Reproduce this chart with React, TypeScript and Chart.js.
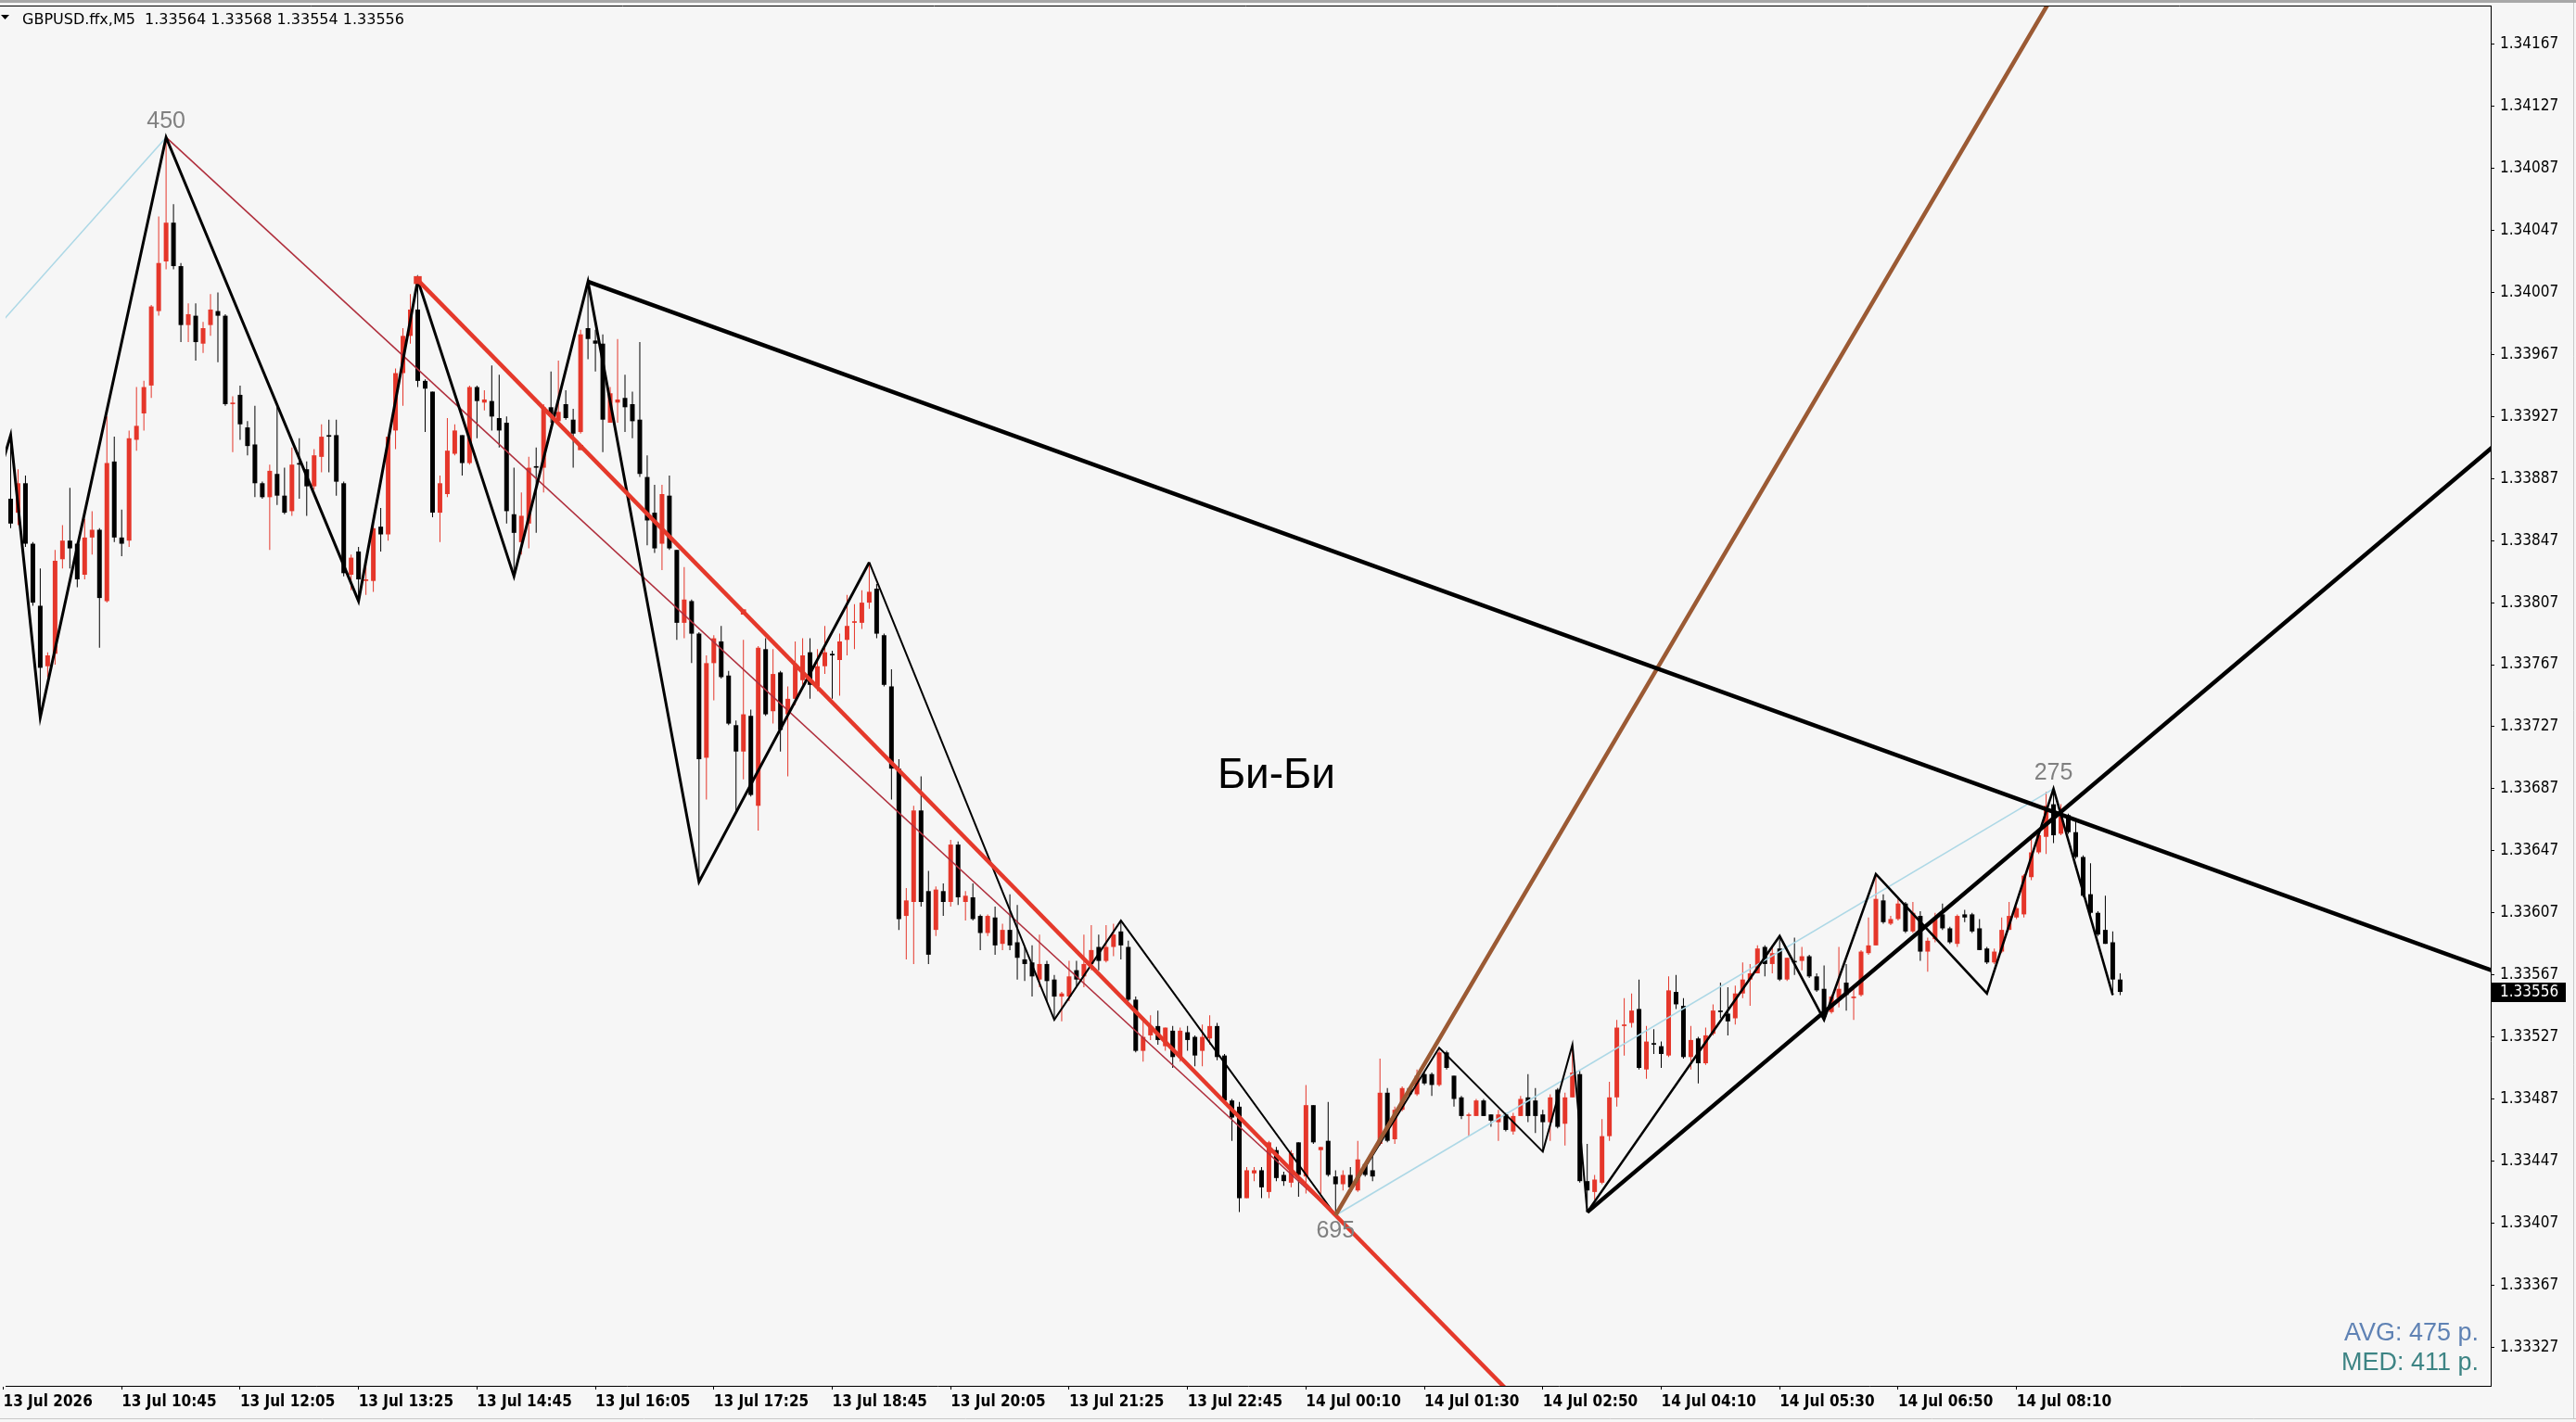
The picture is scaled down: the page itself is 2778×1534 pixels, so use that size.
import React, { useEffect, useRef } from "react";
import { Chart, registerables } from "chart.js";

Chart.register(...registerables);

const W = 2778;
const H = 1534;

const headerText = "GBPUSD.ffx,M5  1.33564 1.33568 1.33554 1.33556";

// ---- M5 candles, bar 0 = 13 Jul 09:25 ----
const opens = [
  1.33860, 1.33874, 1.33865, 1.33884, 1.33845, 1.33805, 1.33766, 1.33774, 1.33835, 1.33847,
  1.33845, 1.33825, 1.33849, 1.33854, 1.33808, 1.33898, 1.33849, 1.33847, 1.33912, 1.33929,
  1.33947, 1.33995, 1.34027, 1.34052, 1.34024, 1.33986, 1.33992, 1.33974, 1.33986, 1.33995,
  1.33992, 1.33935, 1.33941, 1.33920, 1.33909, 1.33884, 1.33875, 1.33890, 1.33876, 1.33866,
  1.33897, 1.33893, 1.33882, 1.33901, 1.33915, 1.33915, 1.33884, 1.33825, 1.33840, 1.33821,
  1.33821, 1.33856, 1.33851, 1.33918, 1.33955, 1.33979, 1.33996, 1.33950, 1.33943, 1.33865,
  1.33877, 1.33903, 1.33915, 1.33897, 1.33946, 1.33936, 1.33937, 1.33926, 1.33923, 1.33864,
  1.33846, 1.33858, 1.33895, 1.33894, 1.33933, 1.33924, 1.33935, 1.33925, 1.33917, 1.33984,
  1.33976, 1.33974, 1.33923, 1.33936, 1.33939, 1.33935, 1.33925, 1.33888, 1.33865, 1.33845,
  1.33876, 1.33841, 1.33794, 1.33808, 1.33787, 1.33707, 1.33768, 1.33782, 1.33760, 1.33728,
  1.33711, 1.33734, 1.33676, 1.33777, 1.33737, 1.33762, 1.33735, 1.33745, 1.33757, 1.33775,
  1.33753, 1.33766, 1.33774, 1.33770, 1.33783, 1.33794, 1.33794, 1.33807, 1.33816, 1.33786,
  1.33753, 1.33700, 1.33605, 1.33614, 1.33673, 1.33621, 1.33596, 1.33621, 1.33614, 1.33651,
  1.33614, 1.33617, 1.33605, 1.33594, 1.33604, 1.33587, 1.33596, 1.33588, 1.33577, 1.33575,
  1.33564, 1.33574, 1.33564, 1.33553, 1.33553, 1.33570, 1.33566, 1.33574, 1.33585, 1.33576,
  1.33585, 1.33595, 1.33585, 1.33551, 1.33518, 1.33528, 1.33534, 1.33521, 1.33531, 1.33514,
  1.33530, 1.33527, 1.33518, 1.33526, 1.33534, 1.33515, 1.33486, 1.33482, 1.33423, 1.33439,
  1.33441, 1.33427, 1.33454, 1.33438, 1.33433, 1.33459, 1.33437, 1.33483, 1.33454, 1.33460,
  1.33437, 1.33432, 1.33438, 1.33428, 1.33445, 1.33441, 1.33458, 1.33491, 1.33461, 1.33480,
  1.33494, 1.33490, 1.33503, 1.33503, 1.33496, 1.33517, 1.33502, 1.33488, 1.33476, 1.33476,
  1.33486, 1.33477, 1.33472, 1.33477, 1.33466, 1.33476, 1.33488, 1.33486, 1.33477, 1.33472,
  1.33493, 1.33471, 1.33488, 1.33503, 1.33434, 1.33427, 1.33433, 1.33463, 1.33488, 1.33534,
  1.33536, 1.33545, 1.33506, 1.33523, 1.33521, 1.33515, 1.33556, 1.33547, 1.33514, 1.33526,
  1.33510, 1.33529, 1.33544, 1.33542, 1.33539, 1.33555, 1.33564, 1.33568, 1.33585, 1.33574,
  1.33584, 1.33564, 1.33576, 1.33576, 1.33579, 1.33566, 1.33558, 1.33543, 1.33552, 1.33562,
  1.33552, 1.33554, 1.33581, 1.33586, 1.33615, 1.33600, 1.33603, 1.33613, 1.33595, 1.33605,
  1.33582, 1.33590, 1.33606, 1.33597, 1.33587, 1.33606, 1.33606, 1.33597, 1.33584, 1.33575,
  1.33582, 1.33596, 1.33604, 1.33606, 1.33630, 1.33646, 1.33656, 1.33677, 1.33658, 1.33670,
  1.33659, 1.33643, 1.33619, 1.33607, 1.33596, 1.33588, 1.33564,
];

const highs = [
  1.33890, 1.33915, 1.33893, 1.33889, 1.33846, 1.33829, 1.33775, 1.33841, 1.33857, 1.33881,
  1.33846, 1.33861, 1.33866, 1.33855, 1.33927, 1.33914, 1.33867, 1.33918, 1.33946, 1.33950,
  1.33999, 1.34056, 1.34107, 1.34064, 1.34026, 1.34000, 1.34000, 1.33988, 1.34006, 1.34007,
  1.33993, 1.33940, 1.33947, 1.33924, 1.33934, 1.33885, 1.33896, 1.33933, 1.33894, 1.33907,
  1.33913, 1.33898, 1.33906, 1.33922, 1.33925, 1.33925, 1.33885, 1.33838, 1.33843, 1.33832,
  1.33858, 1.33868, 1.33915, 1.33958, 1.33984, 1.34006, 1.34015, 1.33951, 1.33943, 1.33889,
  1.33926, 1.33922, 1.33915, 1.33947, 1.33947, 1.33944, 1.33960, 1.33954, 1.33927, 1.33894,
  1.33878, 1.33901, 1.33907, 1.33935, 1.33956, 1.33963, 1.33944, 1.33932, 1.33983, 1.34014,
  1.33983, 1.33980, 1.33946, 1.33977, 1.33954, 1.33943, 1.33975, 1.33902, 1.33883, 1.33883,
  1.33889, 1.33841, 1.33830, 1.33809, 1.33788, 1.33773, 1.33786, 1.33792, 1.33763, 1.33731,
  1.33783, 1.33738, 1.33779, 1.33784, 1.33777, 1.33763, 1.33753, 1.33782, 1.33784, 1.33784,
  1.33777, 1.33792, 1.33776, 1.33787, 1.33812, 1.33806, 1.33815, 1.33833, 1.33819, 1.33787,
  1.33764, 1.33706, 1.33623, 1.33676, 1.33695, 1.33634, 1.33624, 1.33626, 1.33654, 1.33653,
  1.33621, 1.33626, 1.33606, 1.33606, 1.33611, 1.33600, 1.33619, 1.33612, 1.33585, 1.33586,
  1.33593, 1.33576, 1.33567, 1.33556, 1.33576, 1.33576, 1.33593, 1.33599, 1.33593, 1.33599,
  1.33600, 1.33602, 1.33589, 1.33553, 1.33537, 1.33541, 1.33544, 1.33533, 1.33534, 1.33533,
  1.33534, 1.33528, 1.33535, 1.33541, 1.33536, 1.33516, 1.33487, 1.33485, 1.33443, 1.33443,
  1.33443, 1.33460, 1.33456, 1.33440, 1.33454, 1.33459, 1.33496, 1.33483, 1.33456, 1.33485,
  1.33441, 1.33441, 1.33443, 1.33460, 1.33446, 1.33450, 1.33513, 1.33494, 1.33482, 1.33495,
  1.33495, 1.33506, 1.33504, 1.33504, 1.33520, 1.33518, 1.33502, 1.33489, 1.33478, 1.33487,
  1.33487, 1.33477, 1.33480, 1.33478, 1.33478, 1.33489, 1.33503, 1.33494, 1.33480, 1.33490,
  1.33494, 1.33491, 1.33522, 1.33505, 1.33458, 1.33438, 1.33474, 1.33498, 1.33538, 1.33552,
  1.33555, 1.33564, 1.33534, 1.33532, 1.33524, 1.33566, 1.33567, 1.33552, 1.33534, 1.33527,
  1.33533, 1.33548, 1.33562, 1.33559, 1.33560, 1.33575, 1.33574, 1.33586, 1.33586, 1.33586,
  1.33592, 1.33578, 1.33591, 1.33585, 1.33580, 1.33568, 1.33573, 1.33554, 1.33585, 1.33574,
  1.33558, 1.33583, 1.33604, 1.33632, 1.33619, 1.33605, 1.33616, 1.33614, 1.33614, 1.33608,
  1.33591, 1.33607, 1.33613, 1.33598, 1.33606, 1.33609, 1.33607, 1.33603, 1.33585, 1.33584,
  1.33604, 1.33614, 1.33611, 1.33632, 1.33657, 1.33660, 1.33685, 1.33687, 1.33677, 1.33671,
  1.33667, 1.33644, 1.33639, 1.33608, 1.33618, 1.33595, 1.33568,
];

const lows = [
  1.33852, 1.33855, 1.33857, 1.33843, 1.33805, 1.33733, 1.33759, 1.33767, 1.33829, 1.33829,
  1.33817, 1.33822, 1.33838, 1.33778, 1.33807, 1.33846, 1.33837, 1.33843, 1.33905, 1.33918,
  1.33939, 1.33992, 1.34022, 1.34022, 1.33975, 1.33975, 1.33963, 1.33968, 1.33979, 1.33962,
  1.33934, 1.33904, 1.33912, 1.33902, 1.33875, 1.33874, 1.33841, 1.33870, 1.33864, 1.33863,
  1.33874, 1.33863, 1.33880, 1.33891, 1.33891, 1.33876, 1.33824, 1.33815, 1.33808, 1.33812,
  1.33814, 1.33840, 1.33847, 1.33906, 1.33934, 1.33974, 1.33946, 1.33917, 1.33862, 1.33846,
  1.33875, 1.33902, 1.33889, 1.33896, 1.33913, 1.33931, 1.33918, 1.33907, 1.33858, 1.33824,
  1.33838, 1.33842, 1.33852, 1.33878, 1.33923, 1.33922, 1.33925, 1.33894, 1.33916, 1.33964,
  1.33956, 1.33904, 1.33923, 1.33923, 1.33917, 1.33913, 1.33888, 1.33844, 1.33839, 1.33828,
  1.33841, 1.33783, 1.33784, 1.33768, 1.33627, 1.33680, 1.33744, 1.33758, 1.33728, 1.33672,
  1.33693, 1.33682, 1.33660, 1.33734, 1.33729, 1.33711, 1.33695, 1.33741, 1.33754, 1.33745,
  1.33750, 1.33761, 1.33745, 1.33747, 1.33773, 1.33777, 1.33790, 1.33803, 1.33784, 1.33753,
  1.33680, 1.33596, 1.33577, 1.33574, 1.33611, 1.33574, 1.33592, 1.33605, 1.33611, 1.33612,
  1.33602, 1.33602, 1.33583, 1.33592, 1.33580, 1.33583, 1.33583, 1.33564, 1.33563, 1.33553,
  1.33559, 1.33550, 1.33538, 1.33537, 1.33550, 1.33559, 1.33559, 1.33570, 1.33570, 1.33575,
  1.33579, 1.33577, 1.33550, 1.33517, 1.33511, 1.33525, 1.33522, 1.33518, 1.33507, 1.33511,
  1.33518, 1.33508, 1.33508, 1.33522, 1.33512, 1.33485, 1.33460, 1.33414, 1.33423, 1.33434,
  1.33423, 1.33423, 1.33434, 1.33431, 1.33430, 1.33424, 1.33426, 1.33458, 1.33425, 1.33437,
  1.33412, 1.33428, 1.33427, 1.33427, 1.33437, 1.33434, 1.33457, 1.33459, 1.33458, 1.33479,
  1.33489, 1.33489, 1.33496, 1.33489, 1.33495, 1.33506, 1.33482, 1.33474, 1.33463, 1.33476,
  1.33476, 1.33469, 1.33460, 1.33466, 1.33464, 1.33476, 1.33472, 1.33465, 1.33453, 1.33460,
  1.33468, 1.33457, 1.33488, 1.33433, 1.33414, 1.33422, 1.33432, 1.33460, 1.33482, 1.33515,
  1.33533, 1.33506, 1.33500, 1.33516, 1.33507, 1.33514, 1.33545, 1.33513, 1.33506, 1.33497,
  1.33509, 1.33528, 1.33539, 1.33528, 1.33535, 1.33552, 1.33547, 1.33568, 1.33566, 1.33568,
  1.33563, 1.33563, 1.33567, 1.33570, 1.33565, 1.33556, 1.33537, 1.33542, 1.33546, 1.33544,
  1.33538, 1.33553, 1.33580, 1.33586, 1.33600, 1.33599, 1.33602, 1.33594, 1.33594, 1.33576,
  1.33569, 1.33588, 1.33596, 1.33587, 1.33585, 1.33601, 1.33594, 1.33583, 1.33574, 1.33574,
  1.33581, 1.33596, 1.33603, 1.33604, 1.33628, 1.33645, 1.33645, 1.33652, 1.33657, 1.33658,
  1.33642, 1.33617, 1.33606, 1.33592, 1.33587, 1.33554, 1.33554,
];

const closes = [
  1.33880, 1.33858, 1.33884, 1.33845, 1.33807, 1.33765, 1.33773, 1.33834, 1.33847, 1.33842,
  1.33822, 1.33849, 1.33854, 1.33810, 1.33897, 1.33849, 1.33845, 1.33913, 1.33921, 1.33946,
  1.33998, 1.34026, 1.34052, 1.34024, 1.33986, 1.33993, 1.33975, 1.33984, 1.33996, 1.33992,
  1.33935, 1.33936, 1.33922, 1.33908, 1.33884, 1.33875, 1.33892, 1.33876, 1.33865, 1.33896,
  1.33896, 1.33882, 1.33902, 1.33914, 1.33914, 1.33885, 1.33826, 1.33836, 1.33822, 1.33822,
  1.33855, 1.33851, 1.33914, 1.33955, 1.33979, 1.33996, 1.33950, 1.33945, 1.33865, 1.33884,
  1.33905, 1.33918, 1.33897, 1.33946, 1.33937, 1.33938, 1.33927, 1.33918, 1.33866, 1.33852,
  1.33863, 1.33894, 1.33894, 1.33933, 1.33928, 1.33930, 1.33926, 1.33916, 1.33980, 1.33977,
  1.33974, 1.33925, 1.33942, 1.33938, 1.33933, 1.33924, 1.33890, 1.33860, 1.33842, 1.33877,
  1.33842, 1.33794, 1.33809, 1.33787, 1.33706, 1.33768, 1.33784, 1.33759, 1.33729, 1.33711,
  1.33735, 1.33683, 1.33778, 1.33735, 1.33761, 1.33725, 1.33745, 1.33767, 1.33773, 1.33754,
  1.33766, 1.33775, 1.33773, 1.33782, 1.33792, 1.33795, 1.33807, 1.33814, 1.33787, 1.33754,
  1.33700, 1.33603, 1.33615, 1.33673, 1.33614, 1.33580, 1.33622, 1.33614, 1.33651, 1.33617,
  1.33618, 1.33603, 1.33594, 1.33605, 1.33586, 1.33596, 1.33586, 1.33578, 1.33574, 1.33566,
  1.33574, 1.33563, 1.33553, 1.33555, 1.33566, 1.33564, 1.33574, 1.33583, 1.33576, 1.33585,
  1.33593, 1.33586, 1.33551, 1.33518, 1.33527, 1.33534, 1.33525, 1.33533, 1.33514, 1.33531,
  1.33525, 1.33515, 1.33527, 1.33534, 1.33514, 1.33486, 1.33475, 1.33423, 1.33441, 1.33441,
  1.33430, 1.33459, 1.33436, 1.33434, 1.33452, 1.33438, 1.33483, 1.33459, 1.33456, 1.33438,
  1.33432, 1.33438, 1.33430, 1.33448, 1.33438, 1.33437, 1.33491, 1.33460, 1.33480, 1.33494,
  1.33490, 1.33502, 1.33497, 1.33496, 1.33517, 1.33507, 1.33487, 1.33476, 1.33477, 1.33486,
  1.33476, 1.33473, 1.33477, 1.33467, 1.33476, 1.33487, 1.33476, 1.33476, 1.33472, 1.33488,
  1.33469, 1.33488, 1.33504, 1.33434, 1.33428, 1.33435, 1.33463, 1.33488, 1.33533, 1.33535,
  1.33544, 1.33507, 1.33524, 1.33522, 1.33516, 1.33557, 1.33548, 1.33514, 1.33525, 1.33510,
  1.33528, 1.33544, 1.33543, 1.33537, 1.33555, 1.33564, 1.33568, 1.33584, 1.33574, 1.33581,
  1.33564, 1.33578, 1.33575, 1.33579, 1.33566, 1.33557, 1.33540, 1.33553, 1.33558, 1.33554,
  1.33553, 1.33582, 1.33586, 1.33616, 1.33601, 1.33603, 1.33613, 1.33595, 1.33607, 1.33582,
  1.33589, 1.33604, 1.33597, 1.33588, 1.33605, 1.33604, 1.33595, 1.33583, 1.33575, 1.33582,
  1.33596, 1.33605, 1.33610, 1.33631, 1.33646, 1.33657, 1.33676, 1.33657, 1.33669, 1.33659,
  1.33643, 1.33618, 1.33607, 1.33593, 1.33587, 1.33564, 1.33556,
];

// ---- axis ticks ----
const xTickBars = [0, 16, 32, 48, 64, 80, 96, 112, 128, 144, 160, 176, 192, 208, 224, 240, 256, 272];
const xTickLabels = [
  "13 Jul 2026", "13 Jul 10:45", "13 Jul 12:05", "13 Jul 13:25", "13 Jul 14:45", "13 Jul 16:05",
  "13 Jul 17:25", "13 Jul 18:45", "13 Jul 20:05", "13 Jul 21:25", "13 Jul 22:45", "14 Jul 00:10",
  "14 Jul 01:30", "14 Jul 02:50", "14 Jul 04:10", "14 Jul 05:30", "14 Jul 06:50", "14 Jul 08:10",
];
const yTickLabels = [
  "1.33327", "1.33367", "1.33407", "1.33447", "1.33487", "1.33527", "1.33567", "1.33607",
  "1.33647", "1.33687", "1.33727", "1.33767", "1.33807", "1.33847", "1.33887", "1.33927",
  "1.33967", "1.34007", "1.34047", "1.34087", "1.34127", "1.34167",
];

// ---- zigzags ----
const zigzagMainBars = [-3, 1, 5, 22, 48, 56, 69, 79, 94, 117];
const zigzagMainPrices = [1.33850, 1.33915, 1.33733, 1.34107, 1.33808, 1.34015, 1.33824, 1.34014, 1.33627, 1.33833];
const zigzagMinorBars = [117, 142, 151, 180, 194, 208, 212, 214];
const zigzagMinorPrices = [1.33833, 1.33538, 1.33602, 1.33412, 1.33520, 1.33453, 1.33522, 1.33414];
const zigzagLateBars = [214, 240, 246, 253, 268, 277, 285];
const zigzagLatePrices = [1.33414, 1.33592, 1.33538, 1.33632, 1.33555, 1.33687, 1.33554];

// big swing zigzag (labelled 450 / 695 / 275)
const swingUp1Bars = [-62, 22];
const swingUp1Prices = [1.33657, 1.34107];
const swingDownBars = [22, 180];
const swingDownPrices = [1.34107, 1.33412];
const swingUp2Bars = [180, 277];
const swingUp2Prices = [1.33412, 1.33687];

const swingLabels = ["450", "695", "275"];
const swingLabelBars = [22, 180, 277];
const swingLabelPrices = [1.34107, 1.33412, 1.33687];
const swingLabelAbove = [true, false, true];

// ---- trend lines (two anchors each, drawn as rays) ----
const redTrendBars = [56, 180];
const redTrendPrices = [1.34015, 1.33412];
const redMarkBars = [56, 78, 100];
const redMarkPrices = [1.34015, 1.33907, 1.33801];
const blackDownBars = [79, 335];
const blackDownPrices = [1.34014, 1.33572];
const blackUpBars = [214, 335];
const blackUpPrices = [1.33414, 1.33902];
const brownBars = [180, 224];
const brownPrices = [1.33412, 1.33769];

const noteText = "Би-Би";
const noteBar = 172;
const notePrice = 1.33695;

const avgText = "AVG: 475 p.";
const medText = "MED: 411 p.";

const RED = "#e5362a";
const BLACK = "#000000";
const AXIS_FONT = "'DejaVu Sans Condensed', 'DejaVu Sans', sans-serif";
const ARIAL = "'Liberation Sans', Arial, sans-serif";

function pts(bars: number[], prices: number[]) {
  return bars.map((x, i) => ({ x, y: prices[i] }));
}
function ray(bars: number[], prices: number[], toBar: number) {
  const slope = (prices[1] - prices[0]) / (bars[1] - bars[0]);
  return [...pts(bars, prices), { x: toBar, y: prices[1] + slope * (toBar - bars[1]) }];
}

const lineDs = (label: string, data: any[], color: string, width: number, order: number) => ({
  type: "line" as const,
  label,
  data,
  borderColor: color,
  backgroundColor: color,
  borderWidth: width,
  pointRadius: 0,
  tension: 0,
  fill: false,
  clip: 0,
  order,
});

const overlayPlugin = {
  id: "mt4overlay",
  beforeDraw(chart: any) {
    const ctx = chart.ctx;
    ctx.save();
    ctx.fillStyle = "#f6f6f6";
    ctx.fillRect(0, 0, chart.width, chart.height);
    ctx.restore();
  },
  afterDraw(chart: any) {
    const ctx = chart.ctx;
    const xs = chart.scales.x;
    const ys = chart.scales.y;
    const area = chart.chartArea;
    ctx.save();
    // window frame
    ctx.fillStyle = "#a8a8a8";
    ctx.fillRect(0, 0, W, 3);
    ctx.strokeStyle = "#000";
    ctx.lineWidth = 1;
    ctx.beginPath();
    ctx.moveTo(0, area.top + 0.5);
    ctx.lineTo(area.right + 0.5, area.top + 0.5);
    ctx.stroke();
    ctx.strokeStyle = "#c8c8c8";
    ctx.beginPath();
    ctx.moveTo(0, 1530.5);
    ctx.lineTo(W, 1530.5);
    ctx.moveTo(2775.5, 3);
    ctx.lineTo(2775.5, 1530);
    ctx.stroke();

    // header
    ctx.fillStyle = "#000";
    ctx.beginPath();
    ctx.moveTo(1, 16);
    ctx.lineTo(10, 16);
    ctx.lineTo(5.5, 21);
    ctx.closePath();
    ctx.fill();
    ctx.font = "16px 'DejaVu Sans', sans-serif";
    ctx.textAlign = "left";
    ctx.textBaseline = "alphabetic";
    ctx.fillText(headerText, 24, 26);

    // swing labels
    ctx.font = `25px ${ARIAL}`;
    ctx.fillStyle = "#808080";
    ctx.textAlign = "center";
    swingLabels.forEach((t, i) => {
      const px = xs.getPixelForValue(swingLabelBars[i]);
      const py = ys.getPixelForValue(swingLabelPrices[i]);
      ctx.fillText(t, px, swingLabelAbove[i] ? py - 10 : py + 24);
    });

    // note
    ctx.font = `46px ${ARIAL}`;
    ctx.fillStyle = "#000";
    ctx.textBaseline = "middle";
    ctx.fillText(noteText, xs.getPixelForValue(noteBar), ys.getPixelForValue(notePrice));

    // AVG / MED
    ctx.textAlign = "right";
    ctx.textBaseline = "alphabetic";
    ctx.font = `27px ${ARIAL}`;
    ctx.fillStyle = "#5f82b4";
    ctx.fillText(avgText, area.right - 13, 1446);
    ctx.fillStyle = "#3d8484";
    ctx.fillText(medText, area.right - 13, 1478);

    // current price box
    const last = closes[closes.length - 1];
    const py = Math.round(ys.getPixelForValue(last));
    ctx.fillStyle = "#000";
    ctx.fillRect(area.right + 1, py - 10, 80, 21);
    ctx.fillStyle = "#fff";
    ctx.font = `17px ${AXIS_FONT}`;
    ctx.textAlign = "left";
    ctx.textBaseline = "middle";
    ctx.fillText(last.toFixed(5), area.right + 10, py + 1);
    ctx.restore();
  },
};

export default function App() {
  const ref = useRef<HTMLCanvasElement | null>(null);

  useEffect(() => {
    if (!ref.current) return;
    const colors = opens.map((o, i) => (closes[i] > o ? RED : BLACK));
    const wickData = opens.map((_, i) => ({ x: i, y: [lows[i], highs[i]] }));
    const bodyData = opens.map((o, i) => ({ x: i, y: [o, closes[i]] }));

    const chart = new Chart(ref.current, {
      type: "bar",
      data: {
        datasets: [
          lineDs("trend-down", ray(blackDownBars, blackDownPrices, 345), "#000", 4.5, 1),
          lineDs("trend-up", ray(blackUpBars, blackUpPrices, 345), "#000", 4.5, 1),
          lineDs("brown", ray(brownBars, brownPrices, 300), "#9b5a34", 4.5, 2),
          lineDs("red-trend", ray(redTrendBars, redTrendPrices, 240), "#e5392b", 4.5, 2),
          {
            type: "line" as const,
            label: "red-marks",
            data: pts(redMarkBars, redMarkPrices),
            showLine: false,
            pointStyle: "rect",
            pointRadius: [6, 4, 4],
            pointBackgroundColor: "#e5392b",
            pointBorderWidth: 0,
            order: 2,
          },
          lineDs("zigzag-main", pts(zigzagMainBars, zigzagMainPrices), "#000", 3, 3),
          lineDs("zigzag-minor", pts(zigzagMinorBars, zigzagMinorPrices), "#000", 2, 3),
          lineDs("zigzag-late", pts(zigzagLateBars, zigzagLatePrices), "#000", 2.6, 3),
          lineDs("swing-up-1", pts(swingUp1Bars, swingUp1Prices), "#add8e6", 1.6, 4),
          lineDs("swing-down", pts(swingDownBars, swingDownPrices), "#b0303e", 1.6, 4),
          lineDs("swing-up-2", pts(swingUp2Bars, swingUp2Prices), "#add8e6", 1.6, 4),
          {
            type: "bar" as const,
            label: "bodies",
            data: bodyData as any,
            backgroundColor: colors,
            borderWidth: 0,
            barThickness: 5,
            minBarLength: 1,
            grouped: false,
            inflateAmount: 0,
            order: 10,
          },
          {
            type: "bar" as const,
            label: "wicks",
            data: wickData as any,
            backgroundColor: colors,
            borderWidth: 0,
            barThickness: 1,
            minBarLength: 1,
            grouped: false,
            inflateAmount: 0,
            order: 11,
          },
        ] as any,
      },
      options: {
        responsive: false,
        animation: false,
        devicePixelRatio: 1,
        events: [],
        layout: { padding: { top: 4, left: 0, right: 0, bottom: 0 } },
        plugins: { legend: { display: false }, tooltip: { enabled: false } },
        scales: {
          x: {
            type: "linear",
            position: "bottom",
            min: 0.3125,
            max: 336.0625,
            offset: false,
            grid: { display: true, offset: false, drawOnChartArea: false, drawTicks: true, tickLength: 4, tickColor: "#000" },
            border: { display: true, color: "#000", width: 1 },
            afterBuildTicks: (s: any) => {
              s.ticks = xTickBars.map((v) => ({ value: v }));
            },
            afterFit: (s: any) => {
              s.height = 39;
              s.paddingLeft = 0;
              s.paddingRight = 0;
            },
            ticks: {
              autoSkip: false,
              maxRotation: 0,
              minRotation: 0,
              align: "start",
              padding: 3,
              color: "#000",
              font: { family: AXIS_FONT, size: 17, weight: "bold" },
              callback: (_v: any, i: number) => xTickLabels[i],
            },
          },
          y: {
            type: "linear",
            position: "right",
            min: 1.33302,
            max: 1.34192,
            grid: { display: true, drawOnChartArea: false, drawTicks: true, tickLength: 4, tickColor: "#000" },
            border: { display: true, color: "#000", width: 1 },
            afterBuildTicks: (s: any) => {
              s.ticks = yTickLabels.map((l) => ({ value: parseFloat(l) }));
            },
            afterFit: (s: any) => {
              s.width = 92;
              s.paddingTop = 0;
              s.paddingBottom = 0;
            },
            ticks: {
              autoSkip: false,
              padding: 6,
              color: "#000",
              font: { family: AXIS_FONT, size: 17 },
              callback: (_v: any, i: number) => yTickLabels[i],
            },
          },
        },
      } as any,
      plugins: [overlayPlugin],
    });
    return () => chart.destroy();
  }, []);

  return (
    <div style={{ position: "absolute", left: 0, top: 0, width: W, height: H, overflow: "hidden" }}>
      <canvas ref={ref} width={W} height={H} style={{ display: "block", width: W, height: H }} />
    </div>
  );
}
